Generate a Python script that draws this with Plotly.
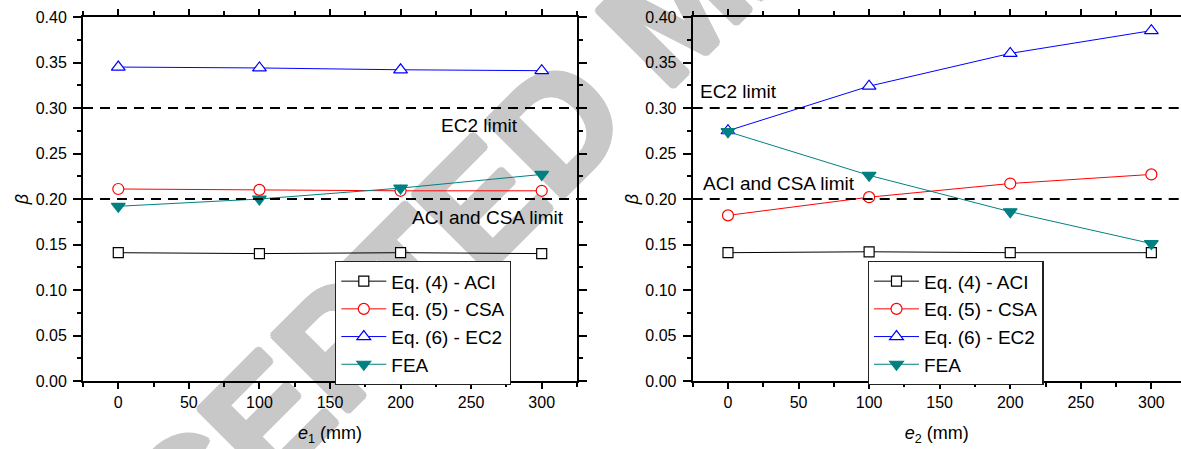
import plotly.graph_objects as go

# eccentricity values (mm) shared by both panels
e_values = [0, 100, 200, 300]

# beta versus e1
beta_aci_e1 = [0.141, 0.140, 0.141, 0.140]
beta_csa_e1 = [0.211, 0.210, 0.209, 0.209]
beta_ec2_e1 = [0.345, 0.344, 0.342, 0.341]
beta_fea_e1 = [0.192, 0.200, 0.212, 0.227]

# beta versus e2
beta_aci_e2 = [0.141, 0.142, 0.141, 0.141]
beta_csa_e2 = [0.182, 0.202, 0.217, 0.227]
beta_ec2_e2 = [0.275, 0.324, 0.360, 0.385]
beta_fea_e2 = [0.274, 0.226, 0.186, 0.151]

series_names = ["Eq. (4) - ACI", "Eq. (5) - CSA", "Eq. (6) - EC2", "FEA"]

# code limits on beta
ec2_limit = 0.30
aci_csa_limit = 0.20
limit_labels = ["EC2 limit", "ACI and CSA limit"]

W, H = 1181, 449
FONT = "Liberation Sans"

styles = [
    dict(color="black", symbol="square", fill="white", size=10),
    dict(color="#ff0000", symbol="circle", fill="white", size=11),
    dict(color="#0000ff", symbol="triangle-up", fill="white", size=12),
    dict(color="#008080", symbol="triangle-down", fill="#008080", size=12),
]

fig = go.Figure()


def add_panel(xref, yref, legend_name, series):
    for name, values, st in zip(series_names, series, styles):
        fig.add_trace(go.Scatter(
            x=e_values, y=values, name=name, mode="lines+markers",
            xaxis=xref, yaxis=yref, legend=legend_name,
            line=dict(color=st["color"], width=1),
            marker=dict(symbol=st["symbol"], size=st["size"], color=st["fill"],
                        line=dict(color=st["color"], width=1.2)),
        ))


add_panel("x", "y", "legend", [beta_aci_e1, beta_csa_e1, beta_ec2_e1, beta_fea_e1])
add_panel("x2", "y2", "legend2", [beta_aci_e2, beta_csa_e2, beta_ec2_e2, beta_fea_e2])

# dashed limit lines across each panel
for xr, yr in [("x", "y"), ("x2", "y2")]:
    for lim in (ec2_limit, aci_csa_limit):
        fig.add_shape(type="line", xref=f"{xr} domain", yref=yr, x0=0, x1=1, y0=lim, y1=lim,
                      line=dict(color="black", width=2.2, dash="10px,7px"), layer="above")

# limit captions
lbl_font = dict(family=FONT, size=19, color="black")
fig.add_annotation(x=256, y=0.281, xref="x", yref="y", text=limit_labels[0], showarrow=False, font=lbl_font)
fig.add_annotation(x=262, y=0.180, xref="x", yref="y", text=limit_labels[1], showarrow=False, font=lbl_font)
fig.add_annotation(x=-21, y=0.318, xref="x2", yref="y2", text=limit_labels[0], showarrow=False,
                   font=lbl_font, xanchor="left")
fig.add_annotation(x=-19, y=0.2175, xref="x2", yref="y2", text=limit_labels[1], showarrow=False,
                   font=lbl_font, xanchor="left")

# diagonal manuscript watermark behind the plots (strokes thickened with a tight halo)
wm_gray = "#c8c8c8"
halo = ", ".join(f"{dx}px {dy}px 0 {wm_gray}" for dx, dy in
                 [(2, 2), (-2, -2), (2, -2), (-2, 2), (3, 0), (-3, 0), (0, 3), (0, -3)])
cx, cy = 666 / W, 1 + 4 / H
fig.add_shape(type="rect", xref="paper", yref="paper",
              x0=cx - 0.001, x1=cx + 0.001, y0=cy - 0.001, y1=cy + 0.001,
              line=dict(width=0), fillcolor="rgba(0,0,0,0)", layer="below",
              label=dict(text="ACCEPTED MANUSCRIPT", textangle=-45, textposition="middle center",
                         font=dict(family=FONT, size=156, color=wm_gray, weight="bold", shadow=halo)))

tick_font = dict(family=FONT, size=16, color="black")

x_common = dict(
    showgrid=False, zeroline=False, showline=True, linecolor="black", linewidth=2,
    ticks="outside", ticklen=6, tickwidth=1.5, tickcolor="black", tickmode="linear",
    tick0=0, dtick=50, tickfont=tick_font, automargin=False, mirror="allticks",
    minor=dict(ticks="outside", ticklen=4, tickwidth=1.5, tickcolor="black", tick0=0, dtick=25, showgrid=False),
    title=dict(font=dict(family=FONT, size=18, color="black"), standoff=16),
)
y_common = dict(
    showgrid=False, zeroline=False, showline=True, linecolor="black", linewidth=2,
    ticks="outside", ticklen=8, tickwidth=1.5, tickcolor="black", tickmode="linear",
    tick0=0, dtick=0.05, tickformat=".2f", tickfont=tick_font, automargin=False,
    range=[0, 0.4], ticklabelstandoff=3,
    minor=dict(ticks="outside", ticklen=4, tickwidth=1.5, tickcolor="black", tick0=0, dtick=0.025, showgrid=False),
    title=dict(text="<i>β</i>", font=dict(family=FONT, size=18, color="black"), standoff=2),
)

y_dom = [1 - 381 / H, 1 - 17 / H]
fig.update_layout(
    xaxis=dict(x_common, domain=[83 / W, 577 / W], range=[-25, 325], anchor="y",
               title_text="<i>e</i><sub>1</sub> (mm)"),
    yaxis=dict(y_common, domain=y_dom, anchor="x", mirror="allticks"),
    xaxis2=dict(x_common, domain=[692.7 / W, 1.0], range=[-25, 321], anchor="y2",
                title_text="<i>e</i><sub>2</sub> (mm)"),
    yaxis2=dict(y_common, domain=y_dom, anchor="x2", mirror=False),
)

legend_common = dict(
    xanchor="left", yanchor="top", bgcolor="white", bordercolor="#222222", borderwidth=1.3,
    font=dict(family=FONT, size=19, color="black"), itemwidth=45, tracegroupgap=0,
)
fig.update_layout(
    legend=dict(legend_common, x=335 / W, y=1 - 261 / H),
    legend2=dict(legend_common, x=867.7 / W, y=1 - 261 / H),
)

fig.update_layout(
    width=W, height=H, margin=dict(l=0, r=0, t=0, b=0),
    paper_bgcolor="white", plot_bgcolor="rgba(0,0,0,0)",
    font=dict(family=FONT, color="black"), showlegend=True,
)

fig.write_html("out.html")
